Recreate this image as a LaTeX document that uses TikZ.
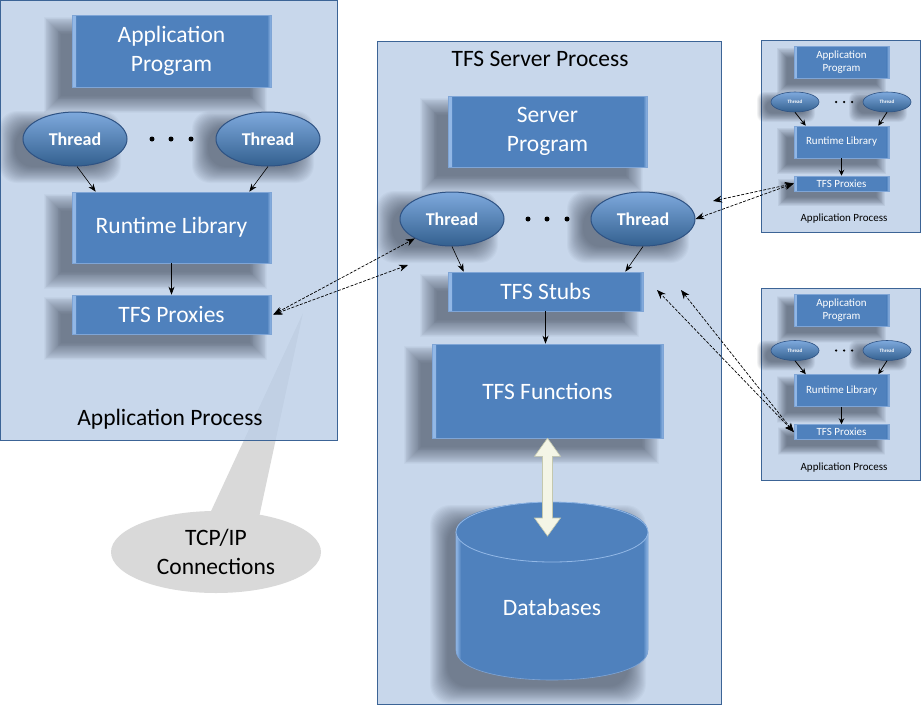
\documentclass[tikz,border=0pt]{standalone}
\usepackage{fontspec}
\setmainfont{Carlito}
\usetikzlibrary{arrows.meta,shapes.geometric,calc}
\pgfdeclarelayer{bg}
\pgfdeclarelayer{shd}
\pgfsetlayers{bg,shd,main}
\definecolor{procfill}{HTML}{BBCEE7}
\definecolor{procline}{HTML}{3C6496}
\definecolor{boxblue}{HTML}{4F81BD}
\definecolor{bevel}{HTML}{93B8E6}
\definecolor{boxline}{HTML}{7FA5D6}
\definecolor{callgray}{HTML}{D9D9D9}
\definecolor{thtop}{HTML}{7EA9DD}
\definecolor{thmid}{HTML}{5486C2}
\definecolor{thbot}{HTML}{33608F}
\definecolor{thline}{HTML}{2E5283}
\definecolor{ivory}{HTML}{F4F5E6}
\definecolor{ivoryline}{HTML}{C4C8AE}
\definecolor{shadowc}{HTML}{1F2A3A}
\newcommand\fntbig{\fontsize{23.5}{29}\selectfont}
\newcommand\fntsmall{\fontsize{11}{13}\selectfont}
\tikzset{
  procframe/.style={draw=procline, line width=1pt, fill=procfill, fill opacity=0.8},
  bevel strips/.style={path picture={
      \shade[left color=bevel, right color=boxblue] (path picture bounding box.north west) rectangle ([xshift=#1]path picture bounding box.south west);
      \shade[left color=boxblue, right color=bevel] ([xshift=-#1]path picture bounding box.north east) rectangle (path picture bounding box.south east);}},
  bluebox/.style={rectangle, fill=boxblue, draw=boxline, line width=0.6pt, text=white, align=center, inner sep=0pt, font=\fntbig, bevel strips=4pt},
  smallbox/.style={rectangle, fill=boxblue, draw=boxline, line width=0.5pt, text=white, align=center, inner sep=0pt, font=\fntsmall, bevel strips=2.5pt},
  thread/.style={ellipse, minimum width=104pt, minimum height=54pt, inner sep=0pt, top color=thtop, middle color=thmid, bottom color=thbot, draw=thline, line width=1pt, text=white, font=\bfseries\fontsize{18}{20}\selectfont},
  sthread/.style={ellipse, minimum width=48pt, minimum height=20pt, inner sep=0pt, top color=thtop, middle color=thmid, bottom color=thbot, draw=thline, line width=0.6pt, text=white, font=\bfseries\fontsize{5}{6}\selectfont},
  flow/.style={-{Stealth[length=8pt,width=6pt]}, line width=0.6pt},
  sflow/.style={-{Stealth[length=6pt,width=5.5pt]}, line width=0.8pt},
  link/.style={dash pattern=on 3pt off 1.5pt, line width=0.7pt, {Stealth[length=9pt,width=7pt]}-{Stealth[length=9pt,width=7pt]}},
  txtlabel/.style={text=black, font=\fntbig, align=center},
  stxtlabel/.style={text=black, font=\fntsmall, align=center},
  dot/.style={circle, fill=black, inner sep=0pt, minimum size=5pt},
  sdot/.style={circle, fill=black, inner sep=0pt, minimum size=2.5pt},
  shadowstep/.style={fill=shadowc, opacity=#1}
}
% soft shadow of a rectangular node: #1 node, #2 dx, #3 dy, #4 spread, #5 step opacity
\newcommand\boxshadow[5]{%
  \begin{pgfonlayer}{shd}
    \foreach \k in {0,...,19}{%
      \pgfmathsetmacro\s{#4*(1-\k/13)}%
      \fill[shadowstep=#5] ($(#1.north west)+(#2-\s,#3-\s)$) rectangle ($(#1.south east)+(#2+\s,#3+\s)$);
    }
  \end{pgfonlayer}}
% big thread shadow (oval), centre #1,#2 (already offset)
\newcommand\bigthshadow[2]{%
  \begin{pgfonlayer}{shd}
    \foreach \k in {0,...,19}{%
      \pgfmathsetmacro\s{11*(1-\k/13)}%
      \fill[shadowstep=0.032, rounded corners=18pt] (#1-50-\s,#2-25-\s) rectangle (#1+50+\s,#2+25+\s);
    }
  \end{pgfonlayer}}
% small thread shadow (oval), centre #1,#2 (already offset)
\newcommand\smallthshadow[2]{%
  \begin{pgfonlayer}{shd}
    \foreach \k in {0,...,19}{%
      \pgfmathsetmacro\s{6*(1-\k/13)}%
      \fill[shadowstep=0.032, rounded corners=7pt] (#1-23-\s,#2-9-\s) rectangle (#1+23+\s,#2+9+\s);
    }
  \end{pgfonlayer}}
\newcommand\smallproc[2]{%
  \begin{scope}[shift={(0,#1)}]
    \begin{pgfonlayer}{bg}
      \path[procframe] (761,40) rectangle (920,232);
    \end{pgfonlayer}
    \smallthshadow{786}{107}
    \smallthshadow{878}{107}
    \node[smallbox, minimum width=95pt, minimum height=32pt] (#2app) at (841.5,62) {Application\\Program};
    \node[sthread] (#2thl) at (795,102) {Thread};
    \node[sthread] (#2thr) at (887,102) {Thread};
    \node[sdot] (#2d1) at (836,102) {};
    \node[sdot] (#2d2) at (844,102) {};
    \node[sdot] (#2d3) at (852,102) {};
    \node[smallbox, minimum width=95pt, minimum height=32pt] (#2rt) at (841.5,142) {Runtime Library};
    \node[smallbox, minimum width=95pt, minimum height=15pt] (#2px) at (841.5,183.5) {TFS Proxies};
    \node[stxtlabel] (#2lbl) at (844,219) {Application Process};
    \draw[sflow] (#2thl.south) -- ([xshift=12pt]#2rt.north west);
    \draw[sflow] (#2thr.south) -- ([xshift=-11pt]#2rt.north east);
    \draw[sflow] (#2rt.south) -- (#2px.north);
  \end{scope}
  \boxshadow{#2app}{-10}{9}{7}{0.032}
  \boxshadow{#2rt}{-10}{9}{7}{0.032}
  \boxshadow{#2px}{-10}{9}{6}{0.032}}
\begin{document}
\begin{tikzpicture}[x=1pt, y=-1pt]
\useasboundingbox (0,0) rectangle (921,710);
\begin{pgfonlayer}{bg}
\fill[white] (0,0) rectangle (921,710);
% callout
\fill[callgray] (303,313) -- (258,522) -- (206,522) -- cycle;
\node[ellipse, fill=callgray, minimum width=210pt, minimum height=82pt, inner sep=0pt, txtlabel] (callout) at (216,552) {TCP/IP\\Connections};
% process frames
\path[procframe] (0.5,0.5) rectangle (337,440);
\path[procframe] (377,41) rectangle (721,704);
\end{pgfonlayer}

% thread shadows
\bigthshadow{60}{147}
\bigthshadow{253}{147}
\bigthshadow{437}{227}
\bigthshadow{628}{227}

% left application process
\node[bluebox, minimum width=199pt, minimum height=72pt] (lapp) at (171.5,51) {Application\\Program};
\node[thread] (lthl) at (75,139) {Thread};
\node[thread] (lthr) at (268,139) {Thread};
\node[dot] (ld1) at (152,139) {};
\node[dot] (ld2) at (171,139) {};
\node[dot] (ld3) at (191,139) {};
\node[bluebox, minimum width=199pt, minimum height=71pt] (lrt) at (171.5,227.5) {Runtime Library};
\node[bluebox, minimum width=199pt, minimum height=39pt] (lpx) at (171.5,314.5) {TFS Proxies};
\node[txtlabel] (llbl) at (170,419) {Application Process};
\draw[flow] ([xshift=2pt]lthl.south) -- ([xshift=24pt]lrt.north west);
\draw[flow] (lthr.south) -- ([xshift=-22pt]lrt.north east);
\draw[flow] (lrt.south) -- (lpx.north);
\boxshadow{lapp}{-16}{14}{12}{0.032}
\boxshadow{lrt}{-16}{14}{12}{0.032}
\boxshadow{lpx}{-16}{14}{12}{0.032}

% server process
\node[txtlabel] (slbl) at (540,59) {TFS Server Process};
\node[bluebox, minimum width=199pt, minimum height=71pt] (sprog) at (547.5,131.5) {Server\\Program};
\node[thread] (sthl) at (452,219) {Thread};
\node[thread] (sthr) at (643,219) {Thread};
\node[dot] (sd1) at (528,219) {};
\node[dot] (sd2) at (547,219) {};
\node[dot] (sd3) at (567,219) {};
\node[bluebox, minimum width=195pt, minimum height=39pt] (stubs) at (545.5,291.5) {TFS Stubs};
\node[bluebox, minimum width=231pt, minimum height=94pt] (func) at (547.5,391) {TFS Functions};
\draw[flow] (sthl.south) -- ([xshift=16pt]stubs.north west);
\draw[flow] (sthr.south) -- ([xshift=-18pt]stubs.north east);
\draw[flow] (stubs.south) -- (stubs.south |- func.north);
\boxshadow{sprog}{-16}{14}{12}{0.032}
\boxshadow{stubs}{-16}{14}{12}{0.032}
\boxshadow{func}{-16}{14}{12}{0.032}

% database cylinder
\node[text=white, font=\fntbig] (db) at (552,607) {Databases};
\begin{pgfonlayer}{shd}
  \foreach \k in {0,...,19}{%
    \pgfmathsetmacro\s{12*(1-\k/13)}%
    \fill[shadowstep=0.032, rounded corners=20pt] (456-14-\s,505+12-\s) rectangle (648-14+\s,680+12+\s);
  }
\end{pgfonlayer}
\path[fill=boxblue] (456,532) -- (456,650) .. controls (456,690) and (648,690) .. (648,650) -- (648,532) .. controls (648,492) and (456,492) .. (456,532) -- cycle;
\begin{scope}
  \clip (456,532) -- (456,650) .. controls (456,690) and (648,690) .. (648,650) -- (648,532) .. controls (648,492) and (456,492) .. (456,532) -- cycle;
  \shade[left color=bevel, right color=boxblue] (456,490) rectangle (461,695);
  \shade[left color=boxblue, right color=bevel] (643,490) rectangle (648,695);
\end{scope}
\draw[boxline, line width=0.6pt] (456,532) -- (456,650) .. controls (456,690) and (648,690) .. (648,650) -- (648,532);
\draw[bevel, line width=0.8pt, fill=boxblue] (552,532) ellipse [x radius=96, y radius=30];
\node[text=white, font=\fntbig] at (db) {Databases};
\coordinate (dbtop) at (547.5,536);

% double arrow between functions and databases
\coordinate (dA) at (func.south);
\filldraw[fill=ivory, draw=ivoryline, line width=0.6pt]
  (dA) -- ($(dA)+(13,18)$) -- ($(dA)+(5,18)$) -- ($(dbtop)+(5,-18)$) -- ($(dbtop)+(13,-18)$) -- (dbtop)
  -- ($(dbtop)+(-13,-18)$) -- ($(dbtop)+(-5,-18)$) -- ($(dA)+(-5,18)$) -- ($(dA)+(-13,18)$) -- cycle;

% small application processes
\smallproc{0}{a}
\smallproc{248.5}{b}

% TCP/IP links
\coordinate (c1) at (408,265);
\coordinate (c2) at (713,201);
\coordinate (c3) at (657,290);
\coordinate (c4) at (681,290);
\draw[link] ([xshift=2pt]lpx.east) -- (sthl.south west);
\draw[link] ([xshift=2pt]lpx.east) -- (c1);
\draw[link] (apx.west) -- (sthr.east);
\draw[link] (apx.west) -- (c2);
\draw[link] (bpx.west) -- (c3);
\draw[link] (bpx.west) -- (c4);
\end{tikzpicture}
\end{document}
